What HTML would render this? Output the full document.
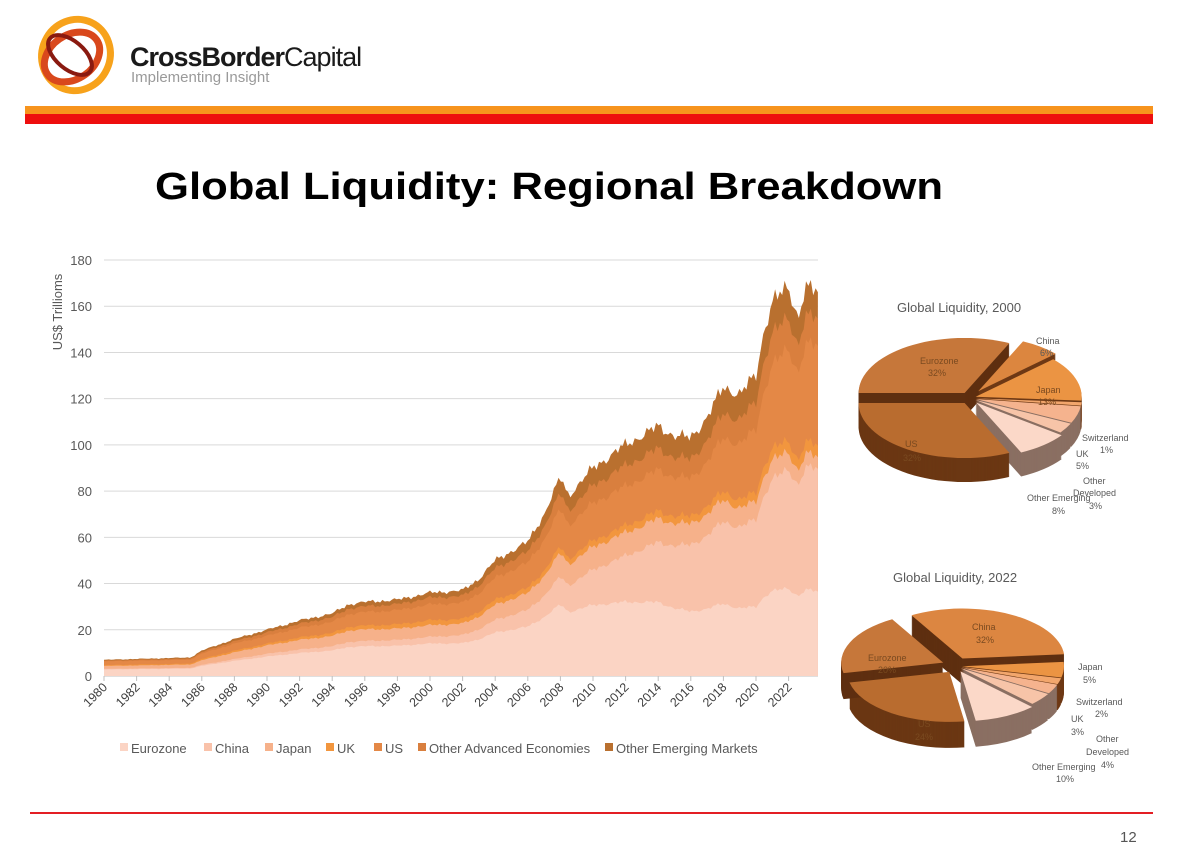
<!DOCTYPE html>
<html><head><meta charset="utf-8"><style>
html,body{margin:0;padding:0;background:#fff;}
svg{display:block;font-family:"Liberation Sans",sans-serif;}
</style></head><body>
<svg id="s" width="1180" height="864" viewBox="0 0 1180 864" xmlns="http://www.w3.org/2000/svg">
<rect width="1180" height="864" fill="#fff"/>
<g fill="none" stroke-width="7">
<ellipse cx="76" cy="55" rx="34" ry="36" stroke="#f7a21b" transform="rotate(25 76 55)"/>
<ellipse cx="72" cy="57" rx="30" ry="22" stroke="#d9481c" transform="rotate(-35 72 57)"/>
<ellipse cx="70" cy="55" rx="26" ry="14" stroke="#8a1a10" stroke-width="4" transform="rotate(40 70 55)"/>
</g>
<text x="130" y="66" font-size="27" font-weight="bold" fill="#1a1a1a" letter-spacing="-1">CrossBorder<tspan font-weight="normal">Capital</tspan></text>
<text x="131" y="82" font-size="15" fill="#9a9a9a">Implementing Insight</text>
<rect x="25" y="106" width="1128" height="8" fill="#f7941d"/>
<rect x="25" y="114" width="1128" height="10" fill="#ee0e0e"/>
<text x="155" y="199" font-size="38" font-weight="bold" fill="#000" textLength="788" lengthAdjust="spacingAndGlyphs">Global Liquidity: Regional Breakdown</text>
<rect x="30" y="812" width="1123" height="2" fill="#e31e24"/>
<text x="1120" y="842" font-size="15" fill="#555">12</text>
<g id="chart"></g>
<g id="pies"></g>
</svg>
<script>
var NS="http://www.w3.org/2000/svg";
function el(t,a,p){var e=document.createElementNS(NS,t);for(var k in a)e.setAttribute(k,a[k]);(p||document.getElementById('chart')).appendChild(e);return e;}
var X0=104,PX=16.3,Y0=676,PY=(676-260)/180;
function xs(y){return X0+(y-1980)*PX;}
function ys(v){return Y0-v*PY;}
for(var v=0;v<=180;v+=20){
 el('line',{x1:104,x2:818,y1:ys(v),y2:ys(v),stroke:v?'#d9d9d9':'#bfbfbf','stroke-width':1});
 var t=el('text',{x:92,y:ys(v)+5,'font-size':13,fill:'#595959','text-anchor':'end'});t.textContent=v;
}
var t=el('text',{x:0,y:0,'font-size':13,fill:'#595959','text-anchor':'middle',transform:'translate(62 312) rotate(-90)'});t.textContent='US$ Trillioms';
for(var yr=1980;yr<=2022;yr+=2){
 var x=xs(yr);
 el('line',{x1:x,x2:x,y1:676,y2:681,stroke:'#bfbfbf'});
 var tt=el('text',{x:0,y:0,'font-size':12.5,fill:'#404040','text-anchor':'end',transform:'translate('+(x+4)+' 688) rotate(-45)'});tt.textContent=yr;
}
var totA=[[1980,7],[1985.3,8],[1986,11],[1988,16],[1990,20],[1992,24],[1994,27],[1995,31],[1996,32],[1998,33],[2000,36],[2002,37],[2003,42],[2004,50],[2006,58],[2007,70],[2008,86],[2008.5,78],[2009,82],[2010,90],[2011,95],[2012,100],[2014,108],[2015,104],[2016,103],[2017,112],[2018,125],[2019,122],[2020,130],[2020.5,150],[2021,162],[2022,168],[2022.6,155],[2023,168],[2023.8,166]];
var frA=[[1980,[.40,.44,.62,.67,.90,.95]],[1986,[.40,.44,.62,.67,.88,.94]],[1990,[.42,.48,.66,.70,.87,.94]],[2000,[.39,.47,.61,.67,.86,.94]],[2008,[.36,.50,.62,.65,.84,.92]],[2012,[.32,.52,.62,.65,.82,.91]],[2016,[.27,.55,.64,.67,.83,.91]],[2020,[.23,.52,.58,.61,.82,.91]],[2023.8,[.22,.54,.57,.60,.86,.93]]];
function interp(A,y){for(var i=0;i<A.length-1;i++){if(y<=A[i+1][0]){var f=(y-A[i][0])/(A[i+1][0]-A[i][0]);var a=A[i][1],b=A[i+1][1];if(typeof a=='number')return a+(b-a)*f;return a.map(function(v,j){return v+(b[j]-v)*f;});}}return A[A.length-1][1];}
var cols=['#fbd4c4','#f9c2aa','#f6b18a','#f2963e','#e48846','#d97f3e','#b9702f'];
var N=300,pts=[];
for(var i=0;i<=N;i++){var y=1980+43.8*i/N;var T=interp(totA,y);T*=1+0.012*Math.sin(i*1.3)+0.012*Math.sin(i*2.9+1)+0.01*Math.sin(i*0.47);var f=interp(frA,y);pts.push([xs(y),[0].concat(f.map(function(v){return v*T;})).concat([T])]);}
for(var L=6;L>=0;L--){var d='M'+pts[0][0]+' '+Y0;pts.forEach(function(p){d+='L'+p[0].toFixed(1)+' '+ys(p[1][L+1]).toFixed(1);});d+='L'+pts[N][0]+' '+Y0+'Z';el('path',{d:d,fill:cols[L]});}
var leg=['Eurozone','China','Japan','UK','US','Other Advanced Economies','Other Emerging Markets'];
var lx=[120,204,265,326,374,418,605];
leg.forEach(function(n,i){el('rect',{x:lx[i],y:743,width:8,height:8,fill:cols[i]});var q=el('text',{x:lx[i]+11,y:753,'font-size':13,fill:'#595959'});q.textContent=n;});
var P=document.getElementById('pies');
function pie(cx,cy,rx,ry,dep,sl,title,tx,ty){
 var q=el('text',{x:tx,y:ty,'font-size':13,fill:'#595959'},P);q.textContent=title;
 var W=sl.map(function(s){
  var a0=(s.a-90)*Math.PI/180,a1=(s.b-90)*Math.PI/180,m=(a0+a1)/2,ex=s.e||6;
  var ox=cx+Math.cos(m)*ex,oy=cy+Math.sin(m)*ex*0.6;
  return function(dy){var large=(s.b-s.a)>180?1:0;return 'M'+ox+' '+(oy+dy)+'L'+(ox+rx*Math.cos(a0))+' '+(oy+dy+ry*Math.sin(a0))+'A'+rx+' '+ry+' 0 '+large+' 1 '+(ox+rx*Math.cos(a1))+' '+(oy+dy+ry*Math.sin(a1))+'Z';};
 });
 sl.forEach(function(s,i){for(var k=dep;k>0;k--)el('path',{d:W[i](k),fill:s.sc},P);});
 sl.forEach(function(s,i){el('path',{d:W[i](0),fill:s.c},P);});
}
var brs='#6e3915',lt='#8a6f62';
pie(970,398,106,55,24,[
 {a:-90,b:25,c:'#c6773a',sc:'#5e2f10',e:10},
 {a:25,b:47,c:'#dc863f',sc:brs,e:14},
 {a:47,b:94,c:'#eb9443',sc:brs,e:6},
 {a:94,b:97.6,c:'#f2a66c',sc:brs,e:6},
 {a:97.6,b:115.6,c:'#f5b38e',sc:lt,e:6},
 {a:115.6,b:126.4,c:'#f7c4a8',sc:lt,e:6},
 {a:126.4,b:155,c:'#fbd8c8',sc:lt,e:10},
 {a:155,b:270,c:'#b96c2f',sc:'#6b3713',e:10}
],'Global Liquidity, 2000',897,312);
pie(956,666,102,50,26,[
 {a:-30,b:85,c:'#dc8641',sc:'#5e2f10',e:14},
 {a:85,b:103,c:'#eb9443',sc:brs,e:6},
 {a:103,b:110,c:'#f2a66c',sc:brs,e:6},
 {a:110,b:121,c:'#f5b38e',sc:lt,e:6},
 {a:121,b:135.4,c:'#f7c4a8',sc:lt,e:6},
 {a:135.4,b:171.4,c:'#fbd8c8',sc:lt,e:10},
 {a:171.4,b:257.8,c:'#b96c2f',sc:'#6b3713',e:12},
 {a:257.8,b:330,c:'#c6773a',sc:'#5e2f10',e:14}
],'Global Liquidity, 2022',893,582);
var labs=[[1036,344,'China','#595959'],[1040,356,'6%','#595959'],[1036,393,'Japan','#7a4a20'],[1038,405,'13%','#7a4a20'],[920,364,'Eurozone','#7a4a20'],[928,376,'32%','#7a4a20'],[905,447,'US','#7a4a20'],[903,461,'32%','#7a4a20'],
[1082,441,'Switzerland','#595959'],[1100,453,'1%','#595959'],[1076,457,'UK','#595959'],[1076,469,'5%','#595959'],[1083,484,'Other','#595959'],[1073,496,'Developed','#595959'],[1089,509,'3%','#595959'],[1027,501,'Other Emerging','#595959'],[1052,514,'8%','#595959'],
[972,630,'China','#7a4a20'],[976,643,'32%','#7a4a20'],[868,661,'Eurozone','#7a4a20'],[878,673,'20%','#7a4a20'],[918,727,'US','#7a4a20'],[915,740,'24%','#7a4a20'],
[1078,670,'Japan','#595959'],[1083,683,'5%','#595959'],[1076,705,'Switzerland','#595959'],[1095,717,'2%','#595959'],[1071,722,'UK','#595959'],[1071,735,'3%','#595959'],[1096,742,'Other','#595959'],[1086,755,'Developed','#595959'],[1101,768,'4%','#595959'],[1032,770,'Other Emerging','#595959'],[1056,782,'10%','#595959']];
labs.forEach(function(l){var q=el('text',{x:l[0],y:l[1],'font-size':9,fill:l[3]},P);q.textContent=l[2];});
</script>
</body></html>
